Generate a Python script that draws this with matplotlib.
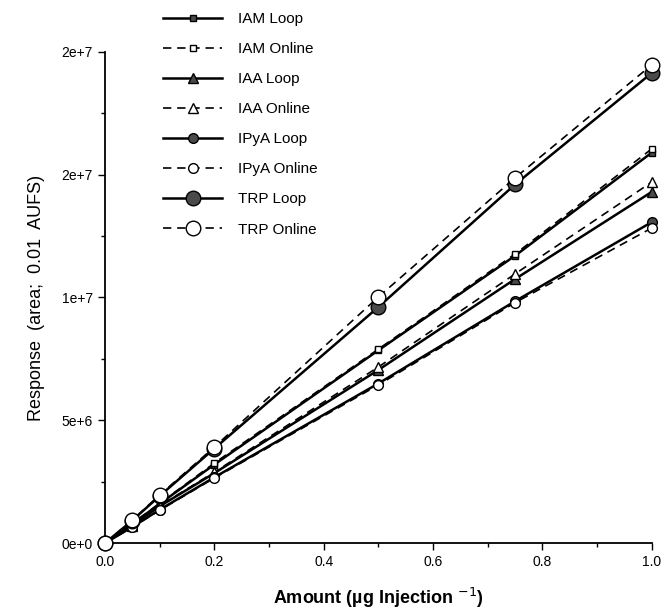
import numpy as np
import matplotlib
matplotlib.use("Agg")
import matplotlib.pyplot as plt
from matplotlib.ticker import MultipleLocator

plt.rcParams['font.family'] = ['Liberation Sans', 'DejaVu Sans']

# amount injected (ug)
amount = [0, 0.05, 0.1, 0.2, 0.5, 0.75, 1.0]

# responses (area; 0.01 AUFS)
iam_loop = [0, 0.78e6, 1.60e6, 3.20e6, 7.85e6, 11.70e6, 15.90e6]
iam_online = [0, 0.80e6, 1.62e6, 3.26e6, 7.90e6, 11.77e6, 16.05e6]
iaa_loop = [0, 0.72e6, 1.50e6, 2.85e6, 7.05e6, 10.75e6, 14.30e6]
iaa_online = [0, 0.74e6, 1.52e6, 2.89e6, 7.17e6, 10.96e6, 14.70e6]
ipya_loop = [0, 0.66e6, 1.36e6, 2.68e6, 6.50e6, 9.85e6, 13.07e6]
ipya_online = [0, 0.65e6, 1.34e6, 2.65e6, 6.44e6, 9.79e6, 12.83e6]
trp_loop = [0, 0.92e6, 1.92e6, 3.85e6, 9.61e6, 14.60e6, 19.14e6]
trp_online = [0, 0.94e6, 1.96e6, 3.91e6, 10.02e6, 14.87e6, 19.47e6]

yticks = [0, 5e6, 1e7, 1.5e7, 2e7]
ytick_labels = ['0e+0', '5e+6', '1e+7', '2e+7', '2e+7']
xticks = [0.0, 0.2, 0.4, 0.6, 0.8, 1.0]

fig = plt.figure(figsize=(6.72, 6.09), dpi=100)
ax = fig.add_axes([0.156, 0.108, 0.814, 0.807])

fill = '#4a4a4a'
series = [
    ('IAM Loop', iam_loop, '-', 's', 5, fill),
    ('IAM Online', iam_online, '--', 's', 5, 'white'),
    ('IAA Loop', iaa_loop, '-', '^', 7, fill),
    ('IAA Online', iaa_online, '--', '^', 7, 'white'),
    ('IPyA Loop', ipya_loop, '-', 'o', 7, fill),
    ('IPyA Online', ipya_online, '--', 'o', 7, 'white'),
    ('TRP Loop', trp_loop, '-', 'o', 10.5, fill),
    ('TRP Online', trp_online, '--', 'o', 10.5, 'white'),
]

for i, (name, vals, ls, mk, ms, fc) in enumerate(series):
    lw = 1.8 if ls == '-' else 1.2
    ax.plot(amount, vals, linestyle=ls, color='black', lw=lw,
            marker=mk, ms=ms, mfc=fc, mec='black', mew=1.0,
            dashes=(5, 3.5) if ls == '--' else (None, None),
            label=name, clip_on=False, zorder=3 + i)

ax.set_xlim(0, 1.0)
ax.set_ylim(0, 2e7)
ax.set_xticks(xticks)
ax.set_xticklabels(['%.1f' % v for v in xticks])
ax.set_yticks(yticks)
ax.set_yticklabels(ytick_labels)
ax.xaxis.set_minor_locator(MultipleLocator(0.1))
ax.yaxis.set_minor_locator(MultipleLocator(2.5e6))
ax.tick_params(which='both', direction='out', labelsize=10, width=1.0)
ax.tick_params(which='major', length=5)
ax.tick_params(which='minor', length=3)
ax.spines['top'].set_visible(False)
ax.spines['right'].set_visible(False)
ax.spines['left'].set_linewidth(1.3)
ax.spines['bottom'].set_linewidth(1.3)

ax.set_ylabel('Response  (area;  0.01  AUFS)', fontsize=13, labelpad=12)
ax.set_xlabel('Amount (µg Injection $^{-1}$)', fontsize=13,
              fontweight='bold', labelpad=12)

fig.legend(loc='upper left', bbox_to_anchor=(0.225, 1.0), frameon=False,
           fontsize=11, handlelength=3.85, handletextpad=1.0,
           labelspacing=1.05, borderpad=0.3)

fig.savefig('out.png', dpi=100)
